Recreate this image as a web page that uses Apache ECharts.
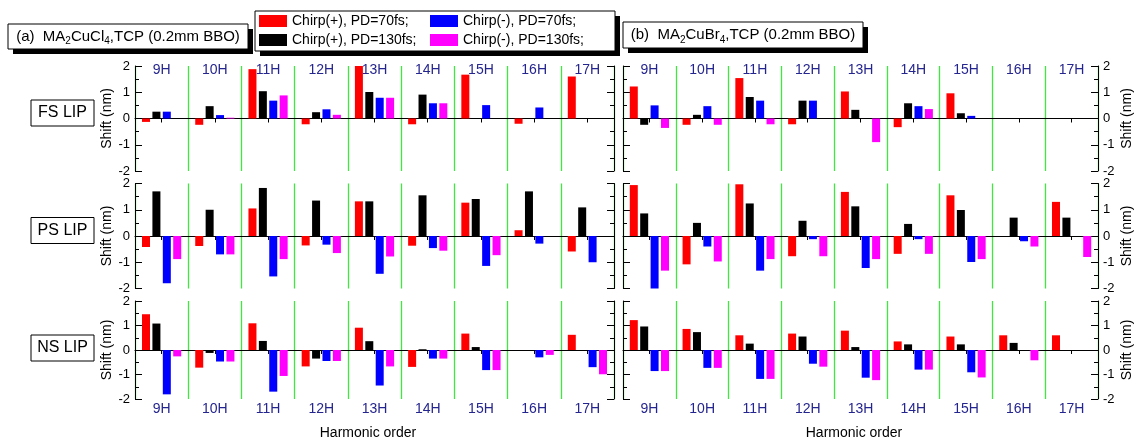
<!DOCTYPE html>
<html lang="en">
  <head>
    <meta charset="UTF-8">
    <title>Harmonic shift</title>
    <script src="https://cdn.jsdelivr.net/npm/echarts@6/dist/echarts.min.js"></script>
  </head>
  <body style="margin:0">
    <div id="main" style="width: 1139px;height:441px;"></div>
    <script type="text/javascript">
      // harmonic orders on the x axis
      const harmonics = ['9H', '10H', '11H', '12H', '13H', '14H', '15H', '16H', '17H'];
      const seriesNames = ['Chirp(+), PD=70fs;', 'Chirp(+), PD=130fs;', 'Chirp(-), PD=70fs;', 'Chirp(-), PD=130fs;'];
      const shiftTicks = [-2, -1, 0, 1, 2];

      // each row: [red, black, blue, magenta] shift in nm, null = no bar
      const fsCuCl = [
        [-0.13, -0.24, 1.88, -0.22, 2.0, -0.22, 1.67, -0.2, 1.6],
        [0.26, 0.47, 1.04, 0.24, 1.01, 0.91, null, null, null],
        [0.26, 0.13, 0.68, 0.35, 0.79, 0.58, 0.51, 0.42, null],
        [null, 0.03, 0.88, 0.14, 0.79, 0.58, null, null, null]
      ];
      const psCuCl = [
        [-0.42, -0.38, 1.05, -0.36, 1.32, -0.37, 1.27, 0.22, -0.59],
        [1.7, 1.0, 1.83, 1.35, 1.32, 1.55, 1.41, 1.7, 1.09],
        [-1.8, -0.7, -1.54, -0.33, -1.44, -0.46, -1.14, -0.29, -1.0],
        [-0.88, -0.7, -0.88, -0.65, -0.78, -0.56, -0.73, null, null]
      ];
      const nsCuCl = [
        [1.46, -0.72, 1.09, -0.67, 0.91, -0.69, 0.67, null, 0.62],
        [1.08, -0.12, 0.37, -0.35, 0.36, 0.03, 0.12, null, null],
        [-1.81, -0.47, -1.7, -0.45, -1.45, -0.35, -0.82, -0.3, -0.7],
        [-0.26, -0.47, -1.06, -0.45, -0.67, -0.35, -0.82, -0.2, -0.99]
      ];
      const fsCuBr = [
        [1.22, -0.24, 1.54, -0.22, 1.03, -0.33, 0.96, null, null],
        [-0.24, 0.14, 0.82, 0.68, 0.33, 0.58, 0.2, null, null],
        [0.5, 0.47, 0.68, 0.68, null, 0.47, 0.1, null, null],
        [-0.36, -0.24, -0.22, null, -0.9, 0.36, null, null, null]
      ];
      const psCuBr = [
        [1.94, -1.08, 1.97, -0.77, 1.68, -0.68, 1.55, null, 1.3],
        [0.86, 0.5, 1.24, 0.58, 1.13, 0.46, 0.99, 0.7, 0.7],
        [-2.0, -0.4, -1.32, -0.12, -1.22, -0.12, -0.99, -0.2, null],
        [-1.32, -0.97, -0.88, -0.77, -0.88, -0.68, -0.88, -0.4, -0.8]
      ];
      const nsCuBr = [
        [1.22, 0.86, 0.6, 0.67, 0.79, 0.35, 0.55, 0.6, 0.6],
        [0.96, 0.73, 0.26, 0.55, 0.12, 0.23, 0.23, 0.29, null],
        [-0.86, -0.73, -1.18, -0.56, -1.13, -0.8, -0.91, null, null],
        [-0.86, -0.73, -1.18, -0.68, -1.23, -0.8, -1.12, -0.42, null]
      ];

      const panels = [[fsCuCl, psCuCl, nsCuCl], [fsCuBr, psCuBr, nsCuBr]];
      const colors = ['#ff0000', '#000000', '#0000ff', '#ff00ff'];
      const font = 'Liberation Sans, Arial, sans-serif';
      const navy = '#25258f';

      const panelLeft = [135, 623];
      const panelWidth = [479, 475];
      const rowTop = [66, 183.5, 301];
      const rowH = 105;

      let grid = [], xAxis = [], yAxis = [], series = [];

      for (let p = 0; p < 2; p++) {
        for (let r = 0; r < 3; r++) {
          const g = p * 3 + r;
          grid.push({ left: panelLeft[p], width: panelWidth[p], top: rowTop[r], height: rowH });
          xAxis.push({
            type: 'category', gridIndex: g, data: harmonics,
            axisLine: { onZero: true, lineStyle: { color: '#000', width: 1 } },
            axisTick: { show: true, alignWithLabel: true, length: 4, lineStyle: { color: '#000' } },
            axisLabel: { show: false },
            splitLine: { show: true, lineStyle: { color: '#3ee83e', width: 1.3 } }
          });
          // left and right y axes
          ['left', 'right'].forEach((pos, k) => {
            const labeled = (p === 0 && k === 0) || (p === 1 && k === 1);
            yAxis.push({
              type: 'value', gridIndex: g, position: pos,
              min: shiftTicks[0], max: shiftTicks[shiftTicks.length - 1], interval: 1,
              axisLine: { show: true, lineStyle: { color: '#000' } },
              axisTick: { show: true, inside: true, length: 7, lineStyle: { color: '#000' } },
              minorTick: { show: true, splitNumber: 2, length: 4, lineStyle: { color: '#000' } },
              splitLine: { show: false },
              axisLabel: { show: labeled, fontSize: 13, color: '#000', margin: 5, fontFamily: font },
              name: labeled ? 'Shift (nm)' : '',
              nameLocation: 'middle', nameRotate: 90, nameGap: k === 0 ? 19 : 22,
              nameTextStyle: { fontSize: 14, color: '#000', fontFamily: font }
            });
          });
          panels[p][r].forEach((vals, s) => {
            series.push({
              type: 'bar', name: seriesNames[s], xAxisIndex: g, yAxisIndex: g * 2,
              data: vals, barWidth: 8, barGap: '30%',
              itemStyle: { color: colors[s] }
            });
          });
        }
      }

      // category labels at top of FS rows and bottom of NS rows
      [0, 3].forEach(g => {
        xAxis.push({
          type: 'category', gridIndex: g, data: harmonics, position: 'top',
          axisLine: { show: false, onZero: false }, axisTick: { show: false },
          axisLabel: { inside: true, margin: -3, fontSize: 14, color: navy, fontFamily: font }
        });
      });
      [2, 5].forEach(g => {
        xAxis.push({
          type: 'category', gridIndex: g, data: harmonics, position: 'bottom',
          axisLine: { show: false, onZero: false }, axisTick: { show: false },
          axisLabel: { margin: 3, fontSize: 14, color: navy, fontFamily: font },
          name: 'Harmonic order', nameLocation: 'middle', nameGap: 27,
          nameTextStyle: { fontSize: 14, color: '#000', fontFamily: font, padding: [0, 13, 0, 0] }
        });
      });

      // boxes: titles, legend frame, row tags
      function shadowBox(x, y, w, h) {
        return [
          { type: 'rect', shape: { x: x + 5, y: y + 5, width: w, height: h }, style: { fill: '#000' }, z: 1 },
          { type: 'rect', shape: { x: x, y: y, width: w, height: h }, style: { fill: '#fff', stroke: '#000', lineWidth: 1 }, z: 2 }
        ];
      }
      const subRich = { s: { fontSize: 10, verticalAlign: 'top', padding: [10, 0, 0, 0], fontFamily: font } };
      let graphic = [];
      graphic = graphic.concat(shadowBox(8, 24, 240, 25), shadowBox(255, 11, 360, 40), shadowBox(623, 22, 240, 26));
      graphic.push({
        type: 'text', x: 128, y: 36.5, z: 3,
        style: { text: '(a)  MA{s|2}CuCl{s|4},TCP (0.2mm BBO)', fontSize: 15, fontFamily: font, fill: '#000',
          align: 'center', verticalAlign: 'middle', rich: subRich }
      });
      graphic.push({
        type: 'text', x: 743, y: 35, z: 3,
        style: { text: '(b)  MA{s|2}CuBr{s|4},TCP (0.2mm BBO)', fontSize: 15, fontFamily: font, fill: '#000',
          align: 'center', verticalAlign: 'middle', rich: subRich }
      });
      ['FS LIP', 'PS LIP', 'NS LIP'].forEach((t, r) => {
        const y = rowTop[r] + rowH / 2 - 18.5;
        graphic.push({ type: 'rect', shape: { x: 31, y: y, width: 63, height: 26 }, style: { fill: '#fff', stroke: '#000', lineWidth: 1 } });
        graphic.push({ type: 'text', x: 62.5, y: y + 13, style: { text: t, fontSize: 16, fontFamily: font, fill: '#000', align: 'center', verticalAlign: 'middle' } });
      });

      const legendBase = {
        orient: 'vertical', itemWidth: 28, itemHeight: 12, itemGap: 5, padding: 0, icon: 'rect',
        selectedMode: false, z: 10, textStyle: { fontSize: 14, color: '#000', fontFamily: font }
      };

      let myChart = echarts.init(document.getElementById('main'));
      myChart.setOption({
        animation: false,
        textStyle: { fontFamily: font },
        grid: grid,
        xAxis: xAxis,
        yAxis: yAxis,
        series: series,
        graphic: graphic,
        legend: [
          Object.assign({}, legendBase, { data: [seriesNames[0], seriesNames[1]], left: 259, top: 14 }),
          Object.assign({}, legendBase, { data: [seriesNames[2], seriesNames[3]], left: 430, top: 14 })
        ]
      });
    </script>
  </body>
</html>
